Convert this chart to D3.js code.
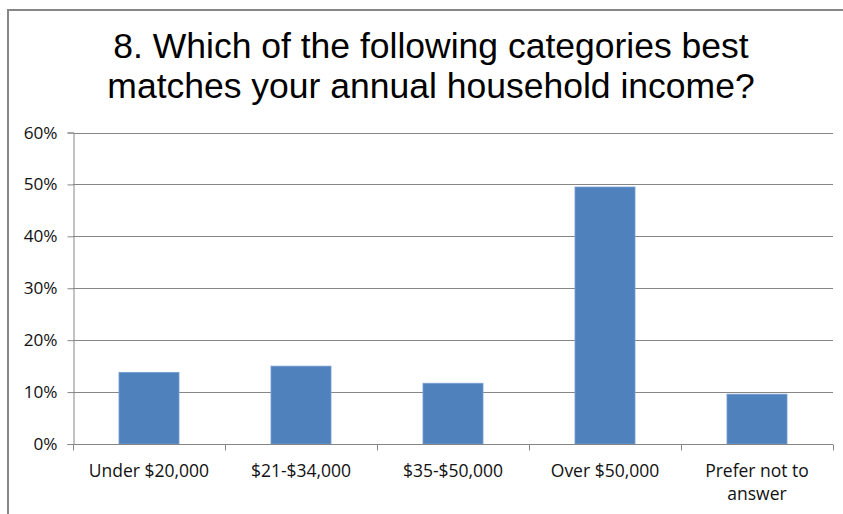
<!DOCTYPE html>
<html>
<head>
<meta charset="utf-8">
<script src="https://cdn.jsdelivr.net/npm/d3@7"></script>
<style>
  html, body { margin: 0; padding: 0; background: #fff; }
  svg { display: block; }
</style>
</head>
<body>
<svg id="chart" width="843" height="514"></svg>
<script>
const titleLines = ["8. Which of the following categories best", "matches your annual household income?"];
const categories = ["Under $20,000", "$21-$34,000", "$35-$50,000", "Over $50,000", "Prefer not to answer"];
const values = [0.138, 0.150, 0.117, 0.495, 0.096];
const yTicks = [0, 0.1, 0.2, 0.3, 0.4, 0.5, 0.6];

const svg = d3.select("#chart");
const W = 843, H = 514;
const m = { left: 73, right: 10, top: 132.5, bottom: 70 };
const plotW = W - m.left - m.right;
const plotH = H - m.top - m.bottom;

// outer frame
svg.append("path")
  .attr("d", `M8,${H} L8,10 L${W},10`)
  .attr("fill", "none").attr("stroke", "#868686").attr("stroke-width", 2);

// title
const title = svg.append("text")
  .attr("text-anchor", "middle")
  .attr("font-family", "Liberation Sans, Arial, sans-serif")
  .attr("font-size", 35.5)
  .attr("fill", "#000");
titleLines.forEach((t, i) => {
  title.append("tspan").attr("x", 431).attr("y", 57.5 + i * 40.5).text(t);
});

const x = d3.scaleBand().domain(categories).range([m.left, m.left + plotW]).paddingInner(0.605).paddingOuter(0.3025);
const y = d3.scaleLinear().domain([0, 0.6]).range([m.top + plotH, m.top]);

const g = svg.append("g");

// gridlines
g.selectAll("line.grid").data(yTicks.filter(d => d > 0)).join("line")
  .attr("class", "grid")
  .attr("x1", m.left).attr("x2", m.left + plotW)
  .attr("y1", d => Math.round(y(d)) + 0.5).attr("y2", d => Math.round(y(d)) + 0.5)
  .attr("stroke", "#868686").attr("stroke-width", 1);

// bars
g.selectAll("rect.bar").data(values).join("rect")
  .attr("class", "bar")
  .attr("x", (d, i) => x(categories[i]))
  .attr("width", x.bandwidth())
  .attr("y", d => y(d))
  .attr("height", d => y(0) - y(d))
  .attr("fill", "#4f81bd")
  .attr("stroke", "#7a9fcf").attr("stroke-width", 0.8);

const labelFont = "Open Sans, Liberation Sans, sans-serif";

// y axis
const yAxis = d3.axisLeft(y).tickValues(yTicks).tickFormat(d3.format(".0%")).tickSize(6).tickPadding(10);
const ya = svg.append("g").attr("transform", `translate(${m.left + 0.5},0)`).call(yAxis);
ya.select(".domain").attr("stroke", "#868686");
ya.selectAll(".tick line").attr("stroke", "#868686");
ya.selectAll(".tick text")
  .attr("font-family", labelFont).attr("font-size", 17.2).attr("fill", "#111");

// x axis with tick marks at category boundaries
const xa = svg.append("g").attr("transform", `translate(0,${Math.round(y(0)) + 0.5})`);
xa.append("line").attr("x1", m.left).attr("x2", m.left + plotW).attr("stroke", "#868686");
const step = x.step();
const boundaries = d3.range(categories.length + 1).map(i => m.left + i * step);
xa.selectAll("line.tk").data(boundaries).join("line")
  .attr("class", "tk")
  .attr("x1", d => Math.round(d) + 0.5).attr("x2", d => Math.round(d) + 0.5)
  .attr("y1", 0).attr("y2", 6).attr("stroke", "#868686");

const wrapMap = { "Prefer not to answer": ["Prefer not to", "answer"] };
categories.forEach(c => {
  const lines = wrapMap[c] || [c];
  const t = xa.append("text")
    .attr("text-anchor", "middle")
    .attr("font-family", labelFont).attr("font-size", 17.5).attr("fill", "#111");
  lines.forEach((l, i) => {
    t.append("tspan").attr("x", x(c) + x.bandwidth() / 2).attr("y", 32.5 + i * 23).text(l);
  });
});
</script>
</body>
</html>
